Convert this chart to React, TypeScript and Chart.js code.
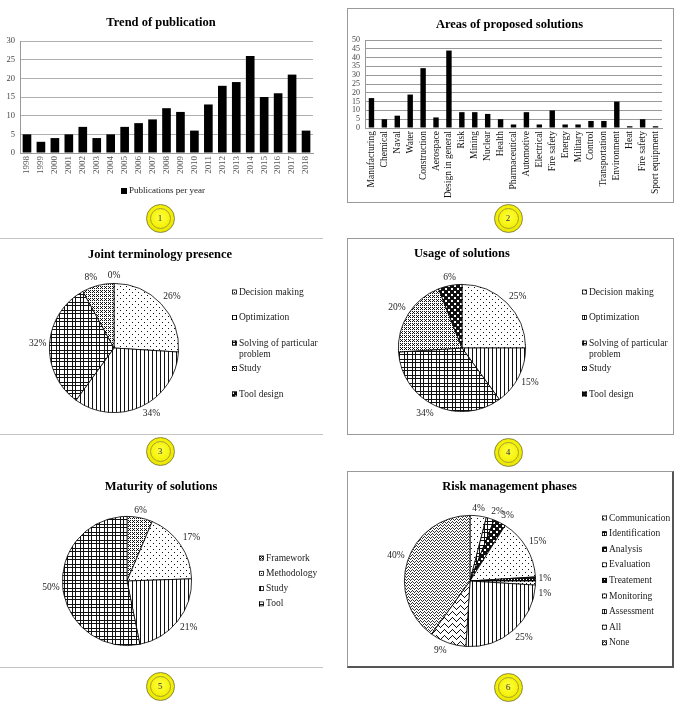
import React, { useEffect, useRef } from 'react';
import { Chart, registerables } from 'chart.js';

Chart.register(...registerables);

const SERIF = '"Liberation Serif", "Times New Roman", serif';

// ---------- data ----------
const years = ['1998', '1999', '2000', '2001', '2002', '2003', '2004', '2005', '2006', '2007', '2008', '2009', '2010', '2011', '2012', '2013', '2014', '2015', '2016', '2017', '2018'];
const publications = [5, 3, 4, 5, 7, 4, 5, 7, 8, 9, 12, 11, 6, 13, 18, 19, 26, 15, 16, 21, 6];
const pubTicks = { min: 0, max: 30, step: 5 };

const areas = ['Manufacturing', 'Chemical', 'Naval', 'Water', 'Construction', 'Aerospace', 'Design in general', 'Risk', 'Mining', 'Nuclear', 'Health', 'Pharmaceutical', 'Automotive', 'Electrical', 'Fire safety', 'Energy', 'Military', 'Control', 'Transportation', 'Environment', 'Heat', 'Fire safety', 'Sport equipment'];
const areaCounts = [17, 5, 7, 19, 34, 6, 44, 9, 9, 8, 5, 2, 9, 2, 10, 2, 2, 4, 4, 15, 1, 5, 1];
const areaTicks = { min: 0, max: 50, step: 5 };

const purposeLabels = ['Decision making', 'Optimization', 'Solving of particular problem', 'Study', 'Tool design'];
const jointValues = [26, 34, 32, 8, 0];
const usageValues = [25, 15, 34, 20, 6];

const maturityLabels = ['Framework', 'Methodology', 'Study', 'Tool'];
const maturityValues = [6, 17, 21, 50];

const riskLabels = ['Communication', 'Identification', 'Analysis', 'Evaluation', 'Treatement', 'Monitoring', 'Assessment', 'All', 'None'];
const riskValues = [4, 2, 3, 15, 1, 1, 25, 9, 40];

// ---------- patterns ----------
const PAT: Record<string, string[]> = {
  dots: ['#.....', '......', '......', '...#..', '......', '......'],
  vlines: ['#...'],
  plaid: ['########', '#..#....', '#..#....', '########', '#..#....', '#..#....', '#..#....', '#..#....'],
  crosses: ['#.#.', '.#..', '#.#.', '....'],
  checker: ['######', '#..###', '#..###', '######', '####..', '####..'],
  dark: ['###', '#.#', '###'],
  dotsDense: ['#...', '....', '..#.', '....'],
  zigzag: ['#.......', '.#.....#', '..#...#.', '...#.#..', '....#...', '........'],
  wave: ['#...', '.#.#', '..#.'],
};

function makePattern(kind: string, fg = '#111', bg = '#fff'): CanvasPattern {
  const rows = PAT[kind];
  const h = rows.length, w = rows[0].length;
  const c = document.createElement('canvas');
  c.width = w; c.height = h;
  const ctx = c.getContext('2d')!;
  ctx.fillStyle = bg; ctx.fillRect(0, 0, w, h);
  ctx.fillStyle = fg;
  rows.forEach((r, y) => { for (let x = 0; x < w; x++) if (r[x] === '#') ctx.fillRect(x, y, 1, 1); });
  const main = document.createElement('canvas').getContext('2d')!;
  return main.createPattern(c, 'repeat')!;
}

// ---------- plugins ----------
type Decor = {
  title: { text: string; x: number; y: number; size: number };
  legend?: { x: number; y: number; step: number; size: number; box: number; gap: number; maxWidth: number; labels: string[]; fills: any[] };
};

function wrapText(ctx: CanvasRenderingContext2D, text: string, maxW: number): string[] {
  const words = text.split(' ');
  const lines: string[] = [];
  let cur = '';
  words.forEach((w) => {
    const t = cur ? cur + ' ' + w : w;
    if (ctx.measureText(t).width > maxW && cur) { lines.push(cur); cur = w; } else cur = t;
  });
  if (cur) lines.push(cur);
  return lines;
}

function makeDecor(d: Decor) {
  return {
    id: 'decor',
    afterDraw(chart: any) {
      const ctx: CanvasRenderingContext2D = chart.ctx;
      ctx.save();
      ctx.font = `bold ${d.title.size}px ${SERIF}`;
      ctx.fillStyle = '#000';
      ctx.textAlign = 'center';
      ctx.textBaseline = 'middle';
      ctx.fillText(d.title.text, d.title.x, d.title.y);
      if (d.legend) {
        const L = d.legend;
        ctx.font = `${L.size}px ${SERIF}`;
        ctx.textAlign = 'left';
        L.labels.forEach((lab, i) => {
          const y = L.y + i * L.step;
          ctx.fillStyle = L.fills[i];
          ctx.fillRect(L.x, y - L.box / 2, L.box, L.box);
          ctx.strokeStyle = '#000';
          ctx.lineWidth = 0.8;
          ctx.strokeRect(L.x + 0.5, y - L.box / 2 + 0.5, L.box - 1, L.box - 1);
          ctx.fillStyle = '#222';
          const lines = wrapText(ctx, lab, L.maxWidth);
          lines.forEach((ln, k) => ctx.fillText(ln, L.x + L.box + L.gap, y + k * (L.size + 1.5)));
        });
      }
      ctx.restore();
    },
  };
}

function makePct(size: number) {
  return {
    id: 'pct',
    afterDatasetsDraw(chart: any) {
      const meta = chart.getDatasetMeta(0);
      const vals = chart.data.datasets[0].data as number[];
      const ctx: CanvasRenderingContext2D = chart.ctx;
      ctx.save();
      ctx.font = `${size}px ${SERIF}`;
      ctx.fillStyle = '#222';
      let prev: { x0: number; x1: number; y0: number; y1: number } | null = null;
      meta.data.forEach((arc: any, i: number) => {
        const p = arc.getProps(['x', 'y', 'startAngle', 'endAngle', 'outerRadius'], true);
        const mid = (p.startAngle + p.endAngle) / 2;
        const c = Math.cos(mid), s = Math.sin(mid);
        const r = p.outerRadius + 3;
        const align = c > 0.2 ? 'left' : c < -0.2 ? 'right' : 'center';
        const base = s < -0.3 ? 'bottom' : s > 0.3 ? 'top' : 'middle';
        const text = vals[i] + '%';
        const w = ctx.measureText(text).width;
        const h = size;
        let x = p.x + c * r;
        let y = p.y + s * r;
        const x0 = align === 'left' ? x : align === 'right' ? x - w : x - w / 2;
        let y0 = base === 'top' ? y : base === 'bottom' ? y - h : y - h / 2;
        if (prev && base === 'middle' && x0 < prev.x1 && x0 + w > prev.x0 && y0 < prev.y1 && y0 + h > prev.y0) {
          const shift = prev.y1 - y0 + 5;
          y += shift; y0 += shift;
        }
        ctx.textAlign = align as CanvasTextAlign;
        ctx.textBaseline = base as CanvasTextBaseline;
        ctx.fillText(text, x, y);
        prev = { x0, x1: x0 + w, y0, y1: y0 + h };
      });
      ctx.restore();
    },
  };
}

// ---------- chart builders ----------
function barConfig(opts: {
  labels: string[]; values: number[]; ticks: { min: number; max: number; step: number };
  padding: any; yWidth: number; xHeight: number; barPct: number; xFont: number; xColor: string; yFont: number;
  gridColor: string; decor: Decor;
}) {
  return {
    type: 'bar',
    data: {
      labels: opts.labels,
      datasets: [{ label: 'Publications per year', data: opts.values, backgroundColor: '#000', categoryPercentage: 1, barPercentage: opts.barPct }],
    },
    options: {
      responsive: false,
      animation: false,
      events: [],
      layout: { padding: opts.padding },
      plugins: { legend: { display: false }, tooltip: { enabled: false }, title: { display: false } },
      scales: {
        x: {
          grid: { display: false, drawTicks: false },
          border: { display: true, color: '#999' },
          ticks: { font: { family: SERIF, size: opts.xFont }, color: opts.xColor, minRotation: 90, maxRotation: 90, autoSkip: false, padding: 3 },
          afterFit: (s: any) => { s.height = opts.xHeight; },
        },
        y: {
          min: opts.ticks.min,
          max: opts.ticks.max,
          ticks: { stepSize: opts.ticks.step, autoSkip: false, font: { family: SERIF, size: opts.yFont }, color: '#444', padding: 5 },
          grid: { color: opts.gridColor, drawTicks: false },
          border: { display: true, color: '#999' },
          afterFit: (s: any) => { s.width = opts.yWidth; },
        },
      },
    },
    plugins: [makeDecor(opts.decor)],
  } as any;
}

function pieConfig(labels: string[], values: number[], fills: any[], padding: any, decor: Omit<Decor, 'legend'>, legend: { x: number; y: number; step: number; maxWidth: number }) {
  return {
    type: 'pie',
    data: { labels, datasets: [{ data: values, backgroundColor: fills, borderColor: '#000', borderWidth: 0.8 }] },
    options: {
      responsive: false,
      animation: false,
      events: [],
      layout: { padding },
      plugins: { legend: { display: false }, tooltip: { enabled: false } },
    },
    plugins: [
      makePct(9.5),
      makeDecor({ ...decor, legend: { ...legend, size: 9.5, box: 5, gap: 2, labels, fills } } as Decor),
    ],
  } as any;
}

function ChartCanvas({ build, left, top, width, height }: { build: () => any; left: number; top: number; width: number; height: number }) {
  const ref = useRef<HTMLCanvasElement>(null);
  useEffect(() => {
    const chart = new Chart(ref.current!, build());
    return () => chart.destroy();
  }, []);
  return <canvas ref={ref} width={width} height={height} style={{ position: 'absolute', left, top, width, height }} />;
}

function Badge({ n, x, y }: { n: number; x: number; y: number }) {
  return (
    <div style={{ position: 'absolute', left: x - 14.5, top: y - 14.5, width: 29, height: 29, borderRadius: '50%', boxSizing: 'border-box', border: '1px solid #8c8a3a', background: 'radial-gradient(circle at 50% 45%, #ffff40 0%, #f4f000 55%, #d8d300 100%)', display: 'flex', alignItems: 'center', justifyContent: 'center' }}>
      <div style={{ width: 21, height: 21, borderRadius: '50%', boxSizing: 'border-box', border: '1px solid #a09e40', display: 'flex', alignItems: 'center', justifyContent: 'center', fontFamily: SERIF, fontSize: 9, color: '#333' }}>{n}</div>
    </div>
  );
}

const boxStyle = (left: number, top: number, right: number, bottom: number, extra: any = {}) => ({
  position: 'absolute' as const, left, top, width: right - left, height: bottom - top, border: '1px solid #9a9a9a', boxSizing: 'border-box' as const, ...extra,
});
const hline = (top: number) => ({ position: 'absolute' as const, left: 0, top, width: 323, height: 1, background: '#c4c4c4' });

export default function App() {
  return (
    <div style={{ position: 'absolute', left: 0, top: 0, width: 675, height: 708, background: '#fff', overflow: 'hidden' }}>
      {/* panel frames */}
      <div style={boxStyle(347, 8, 674, 203)} />
      <div style={boxStyle(347, 238, 674, 435)} />
      <div style={boxStyle(347, 471, 674, 668, { borderRight: '2px solid #555', borderBottom: '2px solid #555' })} />
      <div style={hline(238)} />
      <div style={hline(434)} />
      <div style={hline(667)} />

      {/* 1: Trend of publication */}
      <ChartCanvas left={0} top={0} width={330} height={205} build={() => barConfig({
        labels: years, values: publications, ticks: pubTicks,
        padding: { left: 0, top: 41, right: 17, bottom: 0 }, yWidth: 20, xHeight: 52, barPct: 0.62,
        xFont: 9, xColor: '#555', yFont: 8.5, gridColor: '#b0b0b0',
        decor: {
          title: { text: 'Trend of publication', x: 161, y: 23, size: 12.5 },
          legend: { x: 121, y: 191, step: 15, size: 9, box: 6, gap: 2, maxWidth: 200, labels: ['Publications per year'], fills: ['#000'] },
        },
      })} />

      {/* 2: Areas of proposed solutions */}
      <ChartCanvas left={348} top={9} width={324} height={192} build={() => barConfig({
        labels: areas, values: areaCounts, ticks: areaTicks,
        padding: { left: 0, top: 31, right: 10, bottom: 0 }, yWidth: 17, xHeight: 73, barPct: 0.42,
        xFont: 9.5, xColor: '#111', yFont: 8, gridColor: '#9a9a9a',
        decor: { title: { text: 'Areas of proposed solutions', x: 161.5, y: 16, size: 12.5 } },
      })} />

      {/* 3: Joint terminology presence */}
      <ChartCanvas left={0} top={238} width={330} height={196} build={() => pieConfig(
        purposeLabels, jointValues,
        [makePattern('dots'), makePattern('vlines'), makePattern('plaid'), makePattern('crosses'), makePattern('checker')],
        { left: 49, top: 45, right: 151, bottom: 21 },
        { title: { text: 'Joint terminology presence', x: 160, y: 17, size: 12.5 } },
        { x: 232, y: 54, step: 25.5, maxWidth: 85 },
      )} />

      {/* 4: Usage of solutions */}
      <ChartCanvas left={348} top={239} width={324} height={194} build={() => pieConfig(
        purposeLabels, usageValues,
        [makePattern('dots'), makePattern('vlines'), makePattern('plaid'), makePattern('crosses'), makePattern('checker')],
        { left: 50, top: 45, right: 146, bottom: 21 },
        { title: { text: 'Usage of solutions', x: 114, y: 15, size: 12.5 } },
        { x: 234, y: 53, step: 25.5, maxWidth: 85 },
      )} />

      {/* 5: Maturity of solutions */}
      <ChartCanvas left={0} top={468} width={330} height={198} build={() => pieConfig(
        maturityLabels, maturityValues,
        [makePattern('crosses'), makePattern('dots'), makePattern('vlines'), makePattern('plaid')],
        { left: 62, top: 48, right: 138, bottom: 20 },
        { title: { text: 'Maturity of solutions', x: 161, y: 19, size: 12.5 } },
        { x: 259, y: 90, step: 15.3, maxWidth: 90 },
      )} />

      {/* 6: Risk management phases */}
      <ChartCanvas left={348} top={473} width={324} height={193} build={() => pieConfig(
        riskLabels, riskValues,
        [makePattern('dots'), makePattern('plaid'), makePattern('checker'), makePattern('dots'), makePattern('dark'), makePattern('dotsDense'), makePattern('vlines'), makePattern('zigzag'), makePattern('wave', '#333')],
        { left: 56, top: 42, right: 136, bottom: 19 },
        { title: { text: 'Risk management phases', x: 161.5, y: 14, size: 12.5 } },
        { x: 254, y: 45, step: 15.6, maxWidth: 70 },
      )} />

      <Badge n={1} x={160} y={218} />
      <Badge n={2} x={508} y={218} />
      <Badge n={3} x={160} y={451} />
      <Badge n={4} x={508} y={452} />
      <Badge n={5} x={160} y={686} />
      <Badge n={6} x={508} y={687} />
    </div>
  );
}
